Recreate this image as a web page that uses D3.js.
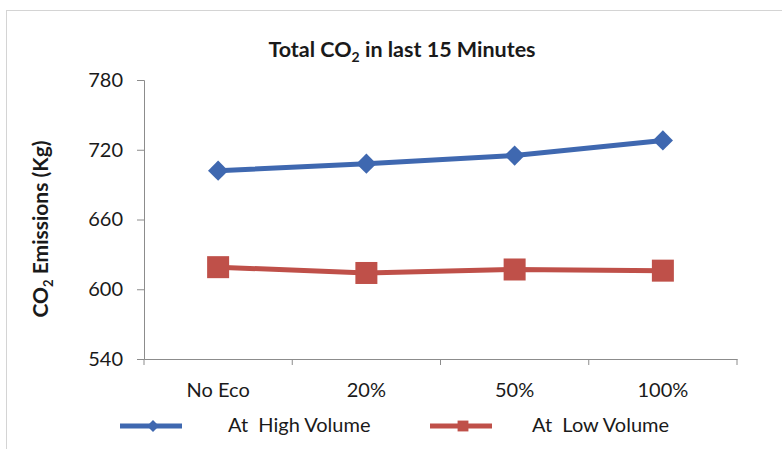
<!DOCTYPE html>
<html>
<head>
<meta charset="utf-8">
<script src="https://cdn.jsdelivr.net/npm/d3@7"></script>
<style>
  body { margin: 0; background: #fff; }
  text { font-family: Lato, "Open Sans", sans-serif; fill: #1a1a1a; white-space: pre; }
</style>
</head>
<body>
<svg id="chart" width="782" height="449"></svg>
<script>
let categories = ["No Eco", "20%", "50%", "100%"]
let highVolume = [702, 708, 715, 728]
let lowVolume = [619, 614, 617, 616]
let yTicks = [540, 600, 660, 720, 780]
let seriesNames = ["At  High Volume", "At  Low Volume"]

let blue = "#3f68b0", red = "#bf5049"

let svg = d3.select("#chart")

// outer chart frame
svg.append("rect")
    .attr("x", 6.5).attr("y", 10.5)
    .attr("width", 800).attr("height", 500)
    .attr("fill", "none").attr("stroke", "#d4d4d4")

let plotLeft = 144, plotRight = 737, plotTop = 80, plotBottom = 359

let x = d3.scaleBand().domain(categories).range([plotLeft, plotRight])
let y = d3.scaleLinear().domain([540, 780]).range([plotBottom, plotTop])

// y axis
let yAxis = svg.append("g")
    .attr("transform", "translate(" + plotLeft + ",0)")
    .call(d3.axisLeft(y).tickValues(yTicks).tickSize(7).tickPadding(14))
yAxis.selectAll("path, line").attr("stroke", "#8c8c8c")
yAxis.selectAll("text").style("font-size", "20px").attr("fill", "#1a1a1a")

// x axis
let xAxis = svg.append("g")
    .attr("transform", "translate(0," + plotBottom + ")")
    .call(d3.axisBottom(x).tickSize(0).tickPadding(24))
xAxis.select("path").attr("stroke", "#8c8c8c")
xAxis.selectAll("text").style("font-size", "20px").attr("fill", "#1a1a1a")
// tick marks between categories
let bounds = categories.map(d => x(d)).concat([plotRight])
xAxis.selectAll(".sep")
    .data(bounds)
    .enter().append("line")
    .attr("x1", d => d).attr("x2", d => d)
    .attr("y1", 0).attr("y2", 6)
    .attr("stroke", "#8c8c8c")

let cx = d => x(d) + x.bandwidth() / 2

let line = d3.line()
    .x((d, i) => cx(categories[i]))
    .y(d => y(d))

svg.append("path")
    .datum(lowVolume)
    .attr("d", line)
    .attr("fill", "none").attr("stroke", red).attr("stroke-width", 5)

svg.selectAll(".sq")
    .data(lowVolume)
    .enter().append("rect")
    .attr("x", (d, i) => cx(categories[i]) - 11)
    .attr("y", d => y(d) - 11)
    .attr("width", 22).attr("height", 22)
    .attr("fill", red)

svg.append("path")
    .datum(highVolume)
    .attr("d", line)
    .attr("fill", "none").attr("stroke", blue).attr("stroke-width", 5)

let diamond = d3.symbol().type(d3.symbolDiamond2).size(260)
svg.selectAll(".dm")
    .data(highVolume)
    .enter().append("path")
    .attr("d", diamond)
    .attr("transform", (d, i) => "translate(" + cx(categories[i]) + "," + y(d) + ")")
    .attr("fill", blue)

// title
let title = svg.append("text")
    .attr("x", 402).attr("y", 57)
    .attr("text-anchor", "middle")
    .style("font-size", "21.5px").style("font-weight", "bold")
title.append("tspan").text("Total CO")
title.append("tspan").text("2").attr("dy", 5).style("font-size", "14px")
title.append("tspan").text(" in last 15 Minutes").attr("dy", -5)

// y axis label
let ylab = svg.append("text")
    .attr("transform", "translate(48,229) rotate(-90)")
    .attr("text-anchor", "middle")
    .style("font-size", "21px").style("font-weight", "bold")
ylab.append("tspan").text("CO")
ylab.append("tspan").text("2").attr("dy", 5).style("font-size", "13px")
ylab.append("tspan").text(" Emissions (Kg)").attr("dy", -5)

// legend
let legend = [
    { name: seriesNames[0], color: blue, x0: 120, tx: 228, shape: "diamond" },
    { name: seriesNames[1], color: red, x0: 430, tx: 532, shape: "square" }
]
let lg = svg.selectAll(".legend")
    .data(legend)
    .enter().append("g")
    .attr("transform", d => "translate(" + d.x0 + ",426)")
lg.append("line")
    .attr("x1", 0).attr("x2", 62)
    .attr("stroke", d => d.color).attr("stroke-width", 5)
lg.append("path")
    .attr("d", d => d.shape == "diamond"
        ? d3.symbol().type(d3.symbolDiamond2).size(90)()
        : d3.symbol().type(d3.symbolSquare2).size(150)())
    .attr("transform", "translate(33,0)")
    .attr("fill", d => d.color)
lg.append("text")
    .attr("x", d => d.tx - d.x0)
    .attr("y", 6)
    .style("font-size", "20px")
    .text(d => d.name)
</script>
</body>
</html>
